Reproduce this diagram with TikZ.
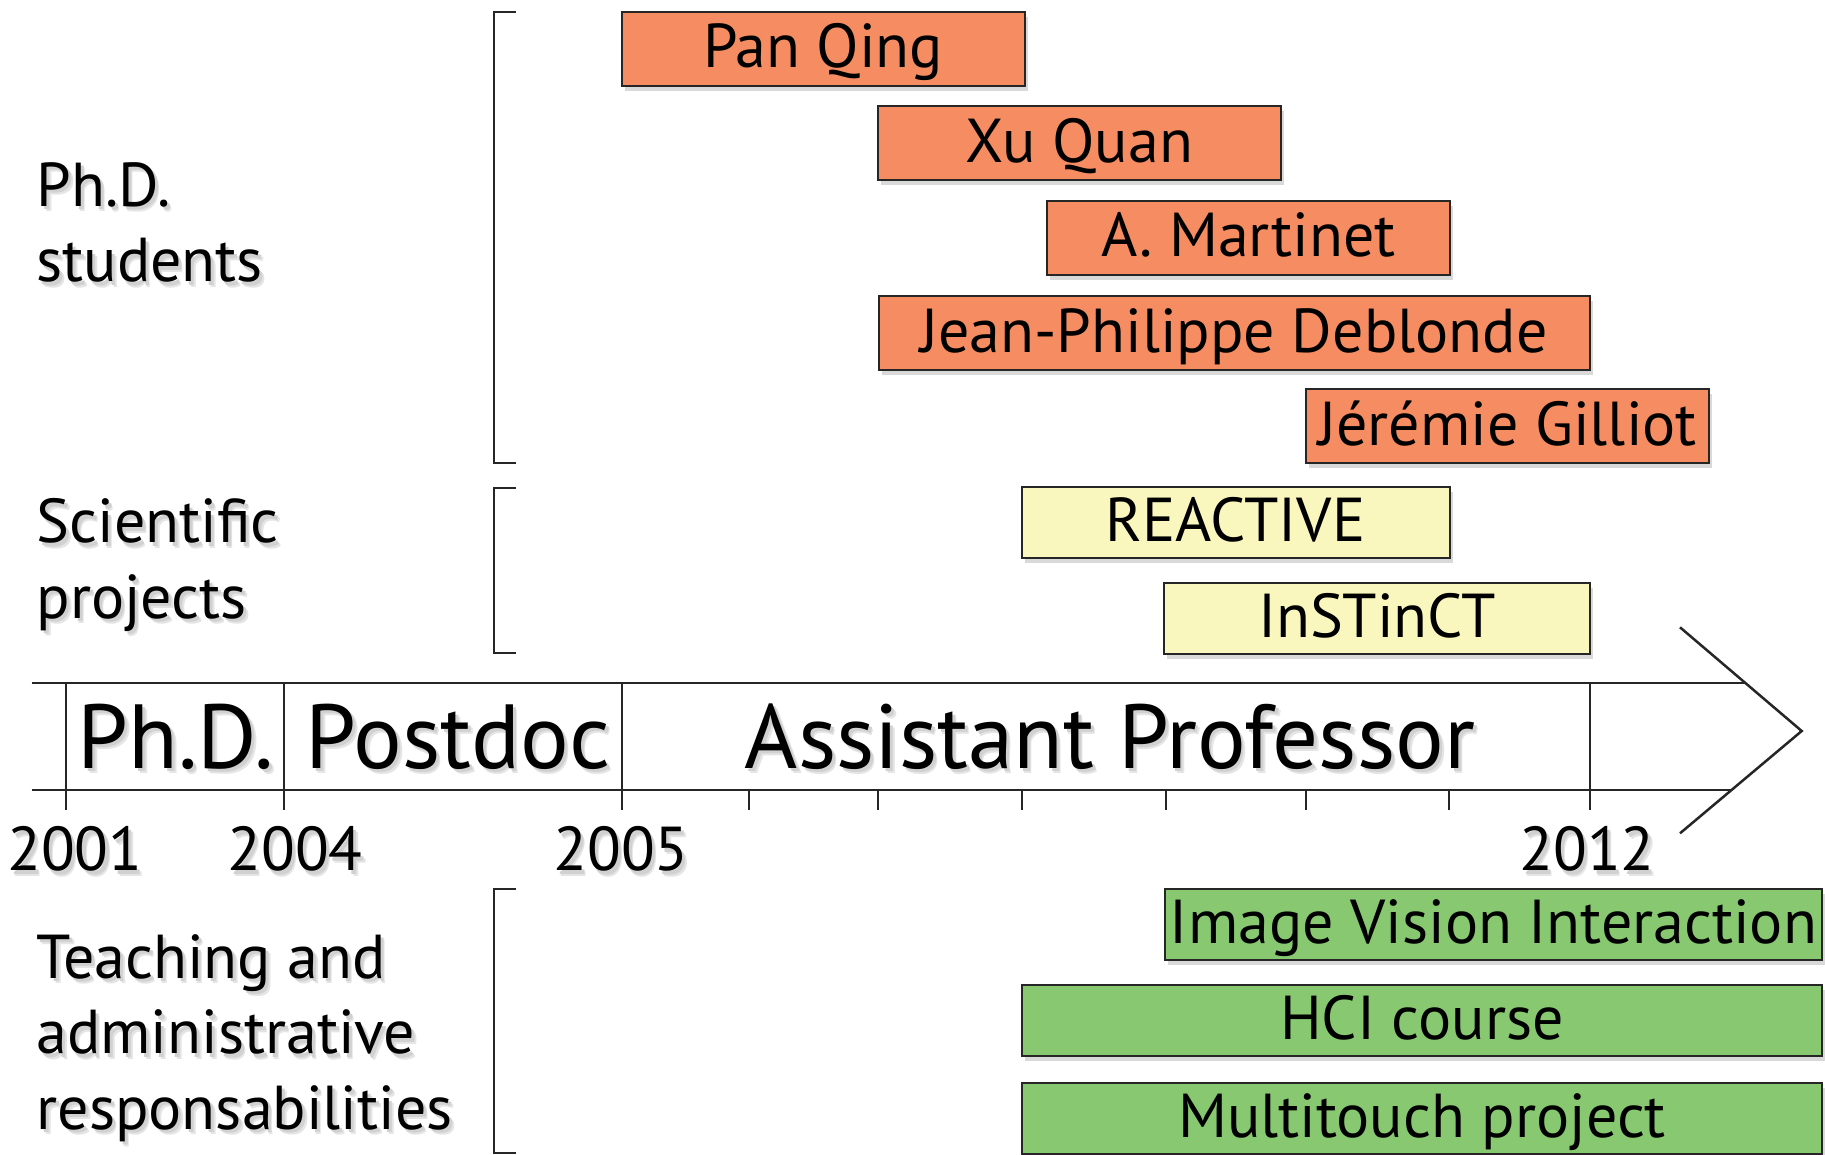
\documentclass[tikz,border=0pt]{standalone}
\usepackage{fontspec}
\setmainfont{PT Sans}
\usetikzlibrary{shadows}
\definecolor{phdorange}{RGB}{246,140,98}
\definecolor{projyellow}{RGB}{250,247,190}
\definecolor{teachgreen}{RGB}{135,200,112}
% soft shadow under plain text
\newcommand\txtshadow[1]{\leavevmode
	\rlap{\kern4.5pt\raisebox{-5.5pt}{\color{black!10}#1}}%
	\rlap{\kern3pt\raisebox{-3.5pt}{\color{black!18}#1}}#1}
\begin{document}
\begin{tikzpicture}[x=1pt,y=-1pt,line join=miter,
		font=\fontsize{62}{75.5}\selectfont,
		bar/.style={draw=black!85,line width=2pt,anchor=north west,
			inner sep=0pt,outer sep=0pt,text height=45pt,text depth=7pt,
			drop shadow={shadow xshift=3pt,shadow yshift=-5pt,opacity=.3}},
		student/.style={bar,fill=phdorange,minimum width=403pt,minimum height=74pt},
		project/.style={bar,fill=projyellow,minimum height=71.5pt},
		teaching/.style={bar,fill=teachgreen,minimum height=71pt},
		bracket/.style={line width=2.2pt,draw=black!85},
		period/.style={anchor=base,font=\fontsize{91}{100}\selectfont},
		year/.style={anchor=base},
		group/.style={anchor=base west,align=left}]
	\useasboundingbox (0,0) rectangle (1825,1154);
	\def\ytop{683}
	\def\ybot{790}
	\def\ytick{810}
	% timeline
	\path (31.6,\ytop) coordinate (T1)
	(1745.4,\ytop) coordinate (T2)
	(31.6,\ybot) coordinate (B1)
	(1731.5,\ybot) coordinate (B2)
	(1680,627.3) coordinate (H1)
	(1801.7,731) coordinate (H2)
	(1680,833.3) coordinate (H3);
	\draw[line width=2.5pt,draw=black!85] (T1)--(T2) (B1)--(B2);
	\draw[line width=2.5pt,draw=black!85] (H1)--(H2)--(H3);
	\foreach \x in {66,284,621.7,1590}
	\draw[line width=2pt,draw=black!85] (\x,\ytop)--(\x,\ytick);
	\foreach \x in {749,878,1022,1165.5,1306,1449}
	\draw[line width=2pt,draw=black!85] (\x,\ybot)--(\x,\ytick);
	\node[period] (phd) at (176,768) {\txtshadow{Ph.D.}};
	\node[period] (postdoc) at (458,768) {\txtshadow{Postdoc}};
	\node[period] (assist) at (1110,768) {\txtshadow{Assistant Professor}};
	\node[year] (y2001) at (75,870.6) {\txtshadow{2001}};
	\node[year] (y2004) at (295,870.6) {\txtshadow{2004}};
	\node[year] (y2005) at (621,870.6) {\txtshadow{2005}};
	\node[year] (y2012) at (1587,870.6) {\txtshadow{2012}};
	% groups
	\foreach \a/\b in {12.3/463.3,488/653,889/1153}
	\draw[bracket] (516,\a)--(494,\a)--(494,\b)--(516,\b);
	\node[group] (gstud) at (33,281.7) {\txtshadow{Ph.D.}\\\txtshadow{students}};
	\node[group] (gproj) at (33,618) {\txtshadow{Scientific}\\\txtshadow{projects}};
	\node[group] (gteach) at (33,1129) {\txtshadow{Teaching and}\\
		\txtshadow{administrative}\\\txtshadow{responsabilities}};
	% bars
	\node[student] (pq) at (621.7,11.7) {Pan Qing};
	\node[student] (xq) at (878,106) {Xu Quan};
	\node[student] (am) at (1047,200.7) {A. Martinet};
	\node[student,minimum width=711pt] (jpd) at (878.5,296) {Jean-Philippe Deblonde};
	\node[student] (jg) at (1306,389.3) {Jérémie Gilliot};
	\node[project,minimum width=428pt] (reactive) at (1021.5,486.7) {REACTIVE};
	\node[project,minimum width=426pt] (instinct) at (1164,582.7) {InSTinCT};
	\node[teaching,minimum width=657pt] (ivi) at (1165,889) {Image Vision Interaction};
	\node[teaching,minimum width=800pt] (hci) at (1022,985) {HCI course};
	\node[teaching,minimum width=800pt] (multi) at (1022,1082.5) {Multitouch project};
\end{tikzpicture}
\end{document}
